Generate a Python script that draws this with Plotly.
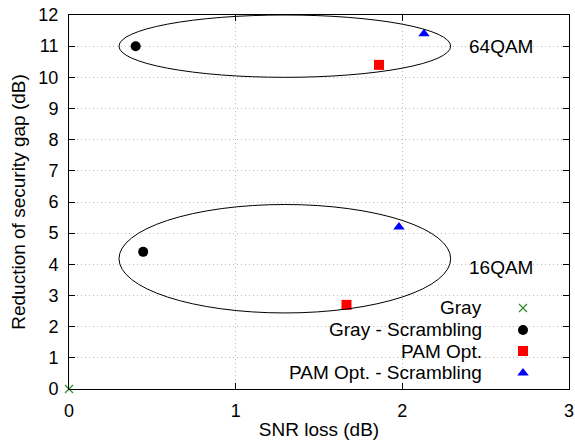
import plotly.graph_objects as go

# Data
gray_x = [0.0]
gray_y = [0.0]
gray_scr_x = [0.40, 0.445]
gray_scr_y = [11.0, 4.4]
pam_x = [1.86, 1.665]
pam_y = [10.4, 2.7]
pam_scr_x = [2.13, 1.98]
pam_scr_y = [11.4, 5.2]

series_names = ["Gray", "Gray - Scrambling", "PAM Opt.", "PAM Opt. - Scrambling"]
group_labels = ["64QAM", "16QAM"]
label_x = [2.59, 2.59]
label_y = [11.0, 3.9]
ellipse_cx = [1.295, 1.295]
ellipse_cy = [11.0, 4.18]
ellipse_rx = [0.995, 0.995]
ellipse_ry = [1.0, 1.74]

FONT = "Liberation Sans"
FS = 19
FT = 18
fig = go.Figure()

styles = [
    dict(symbol="x-thin", size=8, color="#2e8b2e", line=dict(width=1.2, color="#2e8b2e")),
    dict(symbol="circle", size=10, color="black"),
    dict(symbol="square", size=10, color="red"),
    dict(symbol="triangle-up", size=10, color="blue"),
]
data = [(gray_x, gray_y), (gray_scr_x, gray_scr_y), (pam_x, pam_y), (pam_scr_x, pam_scr_y)]
for (xs, ys), st, nm in zip(data, styles, series_names):
    fig.add_trace(go.Scatter(x=xs, y=ys, mode="markers", name=nm, marker=st,
                             showlegend=False, cliponaxis=False))

# ellipses
for cx, cy, rx, ry in zip(ellipse_cx, ellipse_cy, ellipse_rx, ellipse_ry):
    fig.add_shape(type="circle", xref="x", yref="y", x0=cx - rx, x1=cx + rx,
                  y0=cy - ry, y1=cy + ry, line=dict(color="black", width=1))

for t, lx, ly in zip(group_labels, label_x, label_y):
    fig.add_annotation(x=lx, y=ly, text=t, showarrow=False, xref="x", yref="y",
                       font=dict(family=FONT, size=FS, color="black"))

# manual legend (gnuplot style: text right, symbol at far right)
leg_y = [0.2166, 0.1578, 0.1016, 0.0428]
for nm, st, ly in zip(series_names, styles, leg_y):
    fig.add_annotation(x=0.83, y=ly, xref="paper", yref="paper", text=nm,
                       showarrow=False, xanchor="right", yanchor="middle",
                       font=dict(family=FONT, size=FS, color="black"))
    fig.add_trace(go.Scatter(x=[0.908], y=[ly], xaxis="x2", yaxis="y2",
                             mode="markers", marker=st, showlegend=False,
                             hoverinfo="skip"))

axis_common = dict(showline=True, linecolor="black", linewidth=1, mirror="ticks",
                   ticks="inside", ticklen=6, tickcolor="black",
                   showgrid=True, gridcolor="#bdbdbd", griddash="1px,3px", gridwidth=1,
                   zeroline=False, automargin=False,
                   tickfont=dict(family=FONT, size=FT, color="black"))

fig.update_layout(
    width=575, height=443,
    margin=dict(l=69, r=6, t=15, b=54),
    plot_bgcolor="white", paper_bgcolor="white",
    font=dict(family=FONT, size=FS, color="black"),
    xaxis=dict(range=[0, 3], dtick=1, ticklabelstandoff=5,
               title=dict(text="SNR loss (dB)", standoff=3,
               font=dict(family=FONT, size=FS, color="black")), **axis_common),
    yaxis=dict(range=[0, 12], dtick=1, ticklabelstandoff=6,
               title=dict(text="Reduction of security gap (dB)", standoff=7,
               font=dict(family=FONT, size=FS, color="black")), **axis_common),
    xaxis2=dict(range=[0, 1], overlaying="x", visible=False),
    yaxis2=dict(range=[0, 1], overlaying="y", visible=False),
    showlegend=False,
)

fig.write_html("out.html")
